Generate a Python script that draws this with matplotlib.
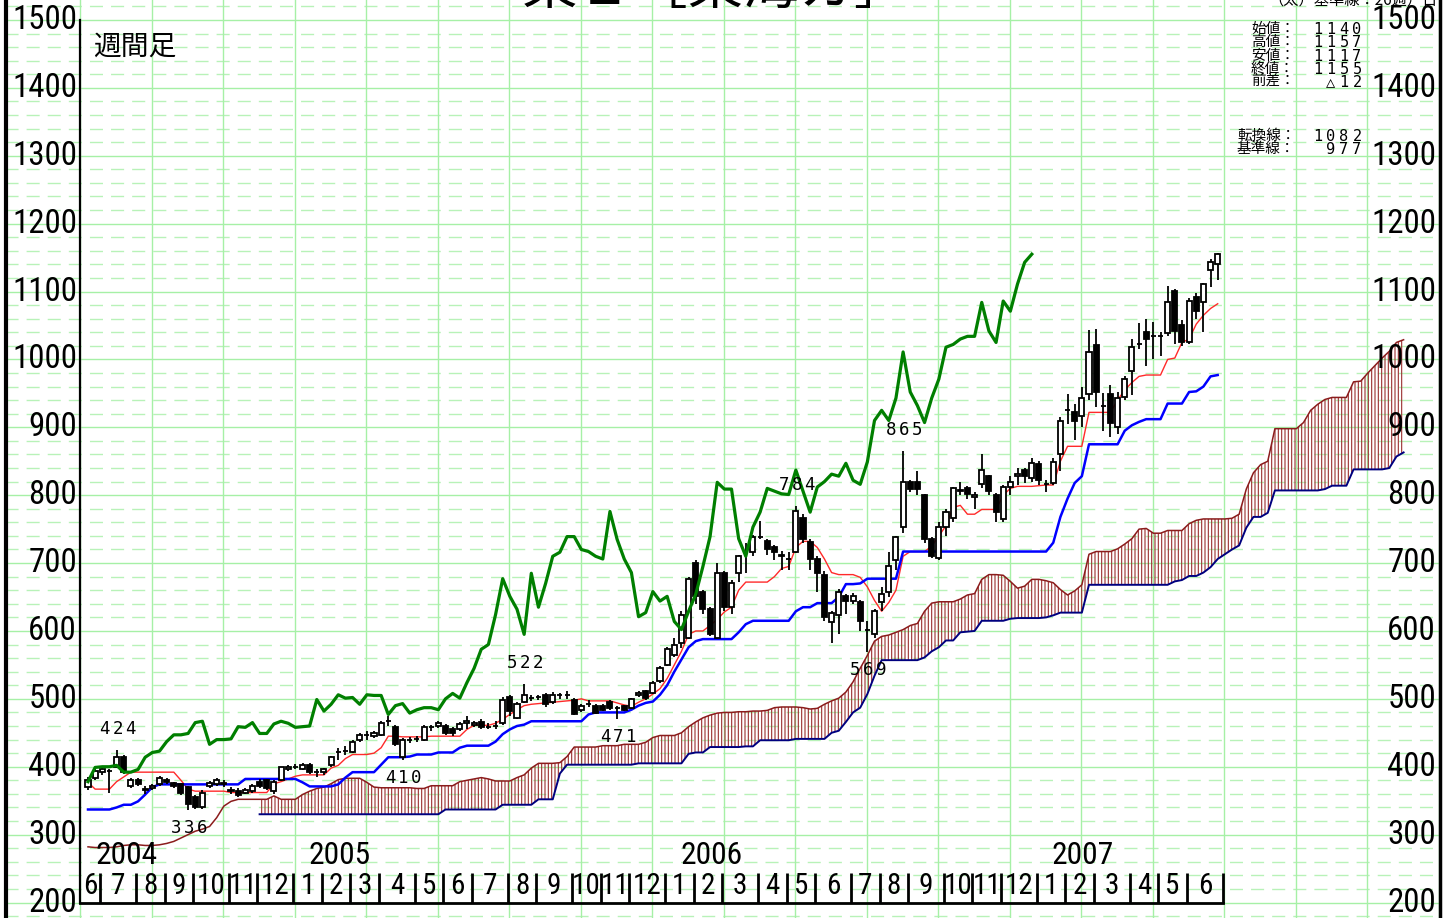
import logging
import numpy as np
import pandas as pd
import matplotlib
matplotlib.use("Agg")
import matplotlib.pyplot as plt
from matplotlib.transforms import offset_copy
from matplotlib import font_manager
from matplotlib.font_manager import FontProperties
from matplotlib.textpath import TextPath

logging.getLogger("matplotlib.font_manager").setLevel(logging.ERROR)

# ---------------------------------------------------------------- data
start_date = "2004-06-18"          # first weekly candle (Friday dating)
shift = 26                         # ichimoku shift (weeks)

opens = [370,384,392,394,400,414,371,380,367,369, 374,380,376,374,370,356,340,371,374,376,
         366,364,362,364,378,380,364,381,396,400, 397,402,392,392,403,421,423,422,440,447,
         445,447,467,459,415,440,441,440,458,460, 460,455,456,465,462,466,459,460,465,502,
         472,496,501,502,506,495,505,505,499,484, 493,490,489,495,487,489,487,506,511,509,
         526,550,565,583,590,700,657,632,590,685, 635,686,716,716,739,732,723,712,706,717,
         767,731,706,683,613,624,651,644,642,602, 595,642,657,704,753,819,819,800,735,707,
         753,766,808,810,797,816,828,801,765,812, 828,837,825,846,816,818,860,925,922,916,
         949,1021,932,949,900,944,983,1022,1041,1034, 1034,1039,1101,1050,1025,1092,1084,1131,1140]
highs = [385,398,399,397,424,418,384,384,372,374, 386,383,378,376,372,358,365,379,383,380,
         370,368,368,374,382,382,380,400,403,404, 405,406,396,398,416,428,430,440,450,452,
         452,468,475,462,442,444,445,462,461,468, 463,459,466,474,468,470,464,468,502,506,
         495,522,506,505,508,510,508,512,501,492, 498,492,493,499,490,491,501,512,513,526,
         548,576,590,630,680,704,660,635,700,688, 675,712,730,742,762,736,726,718,716,784,
         772,735,710,688,630,662,655,656,645,615, 632,665,717,740,865,822,835,802,738,760,
         780,812,820,813,804,860,830,803,815,828, 840,840,855,850,822,855,915,949,935,960,
         1044,1045,950,963,952,975,1030,1053,1060,1055, 1040,1108,1104,1058,1090,1098,1112,1148,1157]
lows = [366,380,388,362,398,390,368,372,360,366, 372,374,369,358,336,338,338,368,372,370,
        360,356,360,362,368,365,360,379,394,396, 395,390,385,388,400,410,418,420,436,440,
        442,445,460,430,410,435,437,438,452,457, 447,446,453,455,458,455,455,456,462,475,
        470,494,497,498,488,493,500,500,476,480, 488,478,482,484,471,482,485,503,498,507,
        524,548,562,575,588,640,625,592,588,630, 625,672,686,710,735,712,705,690,690,715,
        730,690,657,615,583,595,625,640,600,569, 590,630,650,690,745,805,801,730,707,705,
        740,760,800,795,780,810,800,760,760,800, 815,818,820,815,805,815,836,905,882,900,
        940,930,895,885,890,940,947,1016,990,1000, 1005,1035,1022,1020,1022,1060,1040,1106,1117]
closes = [381,393,396,393,415,392,381,375,366,371, 384,377,372,362,345,340,362,376,380,374,
          364,358,366,371,372,368,378,399,400,400, 402,392,392,396,414,421,423,437,447,447,
          449,465,467,433,440,440,441,459,458,465, 449,449,463,467,464,458,459,460,499,482,
          492,506,501,502,492,506,505,505,477,490, 493,479,484,487,487,484,500,508,501,524,
          545,573,580,624,677,651,632,595,685,635, 670,710,716,739,739,720,717,710,706,776,
          735,706,686,621,627,658,644,651,614,602, 629,654,695,739,819,809,809,736,710,753,
          775,810,806,802,801,837,806,775,812,820, 831,828,847,822,816,849,910,925,910,943,
          1011,952,932,907,943,971,1018,1022,1030,1034, 1034,1084,1042,1025,1086,1071,1111,1143,1155]

tenkan = [377,367,367,367,378,385,392,392,392,392, 392,392,392,380,367,364,364,364,364,364,
          362,362,362,362,362,362,375,378,382,386, 388,388,388,388,398,402,412,418,418,418,
          420,428,445,445,444,444,444,444,445,445, 445,445,445,455,461,461,461,464,470,477,
          484,490,492,493,494,495,496,497,498,500, 497,497,497,497,494,491,489,495,500,507,
          515,530,550,570,595,600,600,608,617,628, 635,660,672,672,672,672,680,692,695,723,
          732,732,723,706,686,683,683,683,679,665, 645,629,642,660,710,717,717,717,725,740,
          755,782,785,772,772,779,779,779,800,810, 813,813,813,814,815,815,850,872,872,872,
          922,922,922,922,940,955,966,975,977,977, 977,1000,1002,1025,1030,1052,1065,1075,1082]
kijun = [337,337,337,337,340,344,344,349,359,370, 374,374,374,374,374,374,374,374,374,374,
         374,374,382,382,382,382,382,382,382,382, 377,371,371,371,371,374,384,392,392,392,
         392,403,414,414,414,415,418,418,418,421, 421,421,428,431,431,431,431,437,448,455,
         460,462,467,467,467,467,467,467,467,467, 477,480,480,480,480,480,484,490,494,496,
         506,520,540,558,576,585,588,588,588,588, 588,598,610,615,615,615,615,615,615,629,
         635,635,641,641,641,650,669,669,670,677, 677,677,677,677,717,717,717,717,717,717,
         717,717,717,717,717,717,717,717,717,717, 717,717,717,717,717,730,768,795,818,828,
         875,875,875,875,875,895,903,908,912,912, 912,935,935,935,952,953,960,975,977]

# leading span A, index 0..184 (already shifted forward by 26 weeks)
span_a = [282,281,281,281,282,284,285,285,284,284, 285,287,290,295,300,305,308,312,325,342,
          349,352,352,352,352,352,357,352,352,352, 359,364,368,370,375,381,383,383,383,377,
          370,369,369,369,369,369,368,368,372,372, 372,372,378,380,382,384,382,379,379,379,
          384,388,398,405,405,405,406,415,429,429, 429,429,431,431,431,433,433,433,436,443,
          446,446,446,450,459,466,472,476,479,480, 480,481,481,482,482,483,487,488,488,488,
          487,485,486,492,497,501,510,525,545,564, 585,592,594,598,602,608,611,629,641,643,
          643,643,647,653,655,676,683,683,682,673, 663,666,676,676,674,671,661,653,659,668,
          713,717,717,717,721,728,736,750,751,744, 744,748,748,748,758,763,765,765,765,765,
          766,772,809,833,845,850,898,898,898,898, 907,925,934,941,944,944,944,967,968,980,
          991,1002,1012,1025,1029]
# leading span B, index 24..184
span_b_start = 24
span_b = [330,330,330,330,330,330,330,330,330,330, 330,330,330,330,330,330,330,330,330,330,
          330,330,330,330,330,330,337,337,337,337, 337,337,337,337,344,344,344,344,344,352,
          352,352,390,403,403,403,403,403,403,403, 403,403,403,405,405,405,405,405,405,405,
          419,421,421,429,429,429,429,429,430,430, 439,439,439,439,439,441,441,441,441,441,
          450,453,466,480,487,507,534,557,557,557, 557,557,557,561,570,576,586,586,598,599,
          600,615,615,615,615,618,619,619,619,619, 620,623,627,627,627,627,668,668,668,668,
          668,668,668,668,668,668,668,668,673,675, 681,681,686,694,706,713,720,726,752,768,
          768,774,807,807,807,807,807,807,807,809, 814,814,814,838,838,838,838,838,840,857,
          863]

y_ticks = [200,300,400,500,600,700,800,900,1000,1100,1200,1300,1400,1500]
# (candle index, 'H' or 'L') for the marked highs / lows
marks = [(4,"H"), (14,"L"), (44,"L"), (61,"H"), (74,"L"), (99,"H"), (109,"L"), (114,"H")]

title_text = "東１［東海カ］"
period_text = "週間足"
top_note = "（太）基準線：26週）日"
info_labels = ["始値：", "高値：", "安値：", "終値：", "前差："]
info_values = ["1140", "1157", "1117", "1155", "△12"]
line_labels = ["転換線：", "基準線："]
line_values = ["1082", "977"]

# ---------------------------------------------------------------- layout helpers
def px2x(p):
    return (p - 88.0) / 7.15

def py2y(p):
    return 200.0 + (902.5 - p) / 0.67885

GRID_SOLID = "#a6f0a6"
GRID_DASH = "#b8f2b8"
MONO = ["DejaVu Sans Mono", "DejaVu Sans"]
CJK = ["Noto Sans CJK JP", "DejaVu Sans"]


def pick_narrow_font():
    """Prefer a narrow / condensed sans face for the tall thin digits."""
    cands = []
    for f in font_manager.fontManager.ttflist:
        if f.style != "normal":
            continue
        w = f.weight if isinstance(f.weight, int) else 400
        if w not in (400,):
            continue
        nm = f.name
        narrowish = ("Narrow" in nm or "Condensed" in nm or
                     f.stretch in ("condensed", "semi-condensed", "extra-condensed"))
        if narrowish:
            cands.append(f)
    pref = ["Liberation Sans Narrow", "Noto Sans", "Roboto", "Open Sans", "DejaVu Sans"]
    for p in pref:
        for f in cands:
            if f.name.startswith(p):
                return FontProperties(fname=f.fname)
    if cands:
        return FontProperties(fname=cands[0].fname)
    return FontProperties(family=["Liberation Sans", "DejaVu Sans"])


NARROW_FP = pick_narrow_font()


def size_for(sample, width_px, height_px, allow=1.12):
    tp = TextPath((0, 0), sample, size=100, prop=NARROW_FP)
    ext = tp.get_extents()
    s_w = 100 * (width_px * 0.72) / ext.width * allow
    s_h = 100 * (height_px * 0.72) / ext.height
    return min(s_w, s_h)


YLAB_SIZE = size_for("1500", 55, 24)
MON_SIZE = size_for("6", 13, 21)
YEAR_SIZE = size_for("2005", 56, 23)


def nfp(size):
    fp = NARROW_FP.copy()
    fp.set_size(size)
    return fp


o = np.array(opens, float); h = np.array(highs, float)
l = np.array(lows, float); c = np.array(closes, float)
N = len(c)
x = np.arange(N)
dates = pd.date_range(start_date, periods=N, freq="7D")

fig = plt.figure(figsize=(14.53, 9.18), dpi=100)
ax = fig.add_axes([0, 0, 1, 1])
ax.set_xlim(px2x(0), px2x(1453))
ax.set_ylim(py2y(918), py2y(0))
ax.axis("off")

# ---------------------------------------------------------------- grid
gx0, gx1 = px2x(5), px2x(1440)
for v in range(180, 1540, 20):
    if v % 100 == 0:
        ax.plot([gx0, gx1], [v, v], color=GRID_SOLID, lw=1.0, zorder=0)
    else:
        ax.plot([gx0, gx1], [v, v], color=GRID_DASH, lw=1.0, zorder=0,
                dashes=(9.4, 5.8))
for k in range(20):
    ax.axvline(px2x(80) + 10 * k, color=GRID_SOLID, lw=1.0, zorder=0)

# frame lines
ax.axvline(px2x(6), color="black", lw=3.0, zorder=10)
ax.axvline(px2x(1440), color="black", lw=2.5, zorder=10)
ax.plot([px2x(79.5), px2x(79.5)], [200, 1500], color="black", lw=1.6, zorder=10)

# ---------------------------------------------------------------- ichimoku cloud
xa = np.arange(len(span_a))
xb = np.arange(span_b_start, span_b_start + len(span_b))
sa = np.array(span_a, float); sb = np.array(span_b, float)
plt.rcParams["hatch.linewidth"] = 0.8
ax.fill_between(xb, sa[span_b_start:], sb, facecolor="none", edgecolor="#9a3030",
                hatch="|||||", linewidth=0, zorder=1)
ax.plot(xa, sa, color="#8b1c1c", lw=1.1, zorder=2)
ax.plot(xb, sb, color="#00007f", lw=1.4, zorder=2)

# conversion / base lines
ax.plot(x, tenkan, color="#ff2a2a", lw=1.0, zorder=3)
ax.plot(x, kijun, color="#0000ff", lw=1.8, zorder=3)

# ---------------------------------------------------------------- candles
ax.vlines(x, l, h, color="black", lw=1.3, zorder=5)
up = c >= o
ax.bar(x, np.abs(c - o), bottom=np.minimum(o, c), width=0.7,
       color=np.where(up, "white", "black"), edgecolor="black", linewidth=1.3, zorder=6)

# lagging span (close plotted 26 weeks back)
ax.plot(x[:N - shift], c[shift:], color="#007f00", lw=2.3, zorder=7)

# ---------------------------------------------------------------- spaced text helper
def spaced(xd, yd, s, pitch, size, family, dx0=0.0, dy=0.0, align="center", color="black"):
    n = len(s)
    for k, ch in enumerate(s):
        if align == "center":
            dx = dx0 + (k - (n - 1) / 2.0) * pitch
        else:  # right: last char centre at dx0
            dx = dx0 - (n - 1 - k) * pitch
        tr = offset_copy(ax.transData, fig=fig, x=dx, y=dy, units="dots")
        ax.text(xd, yd, ch, transform=tr, ha="center", va="center",
                fontsize=size, family=family, color=color, zorder=12)

# high / low marks
for idx, kind in marks:
    if kind == "H":
        spaced(idx, h[idx], str(int(h[idx])), 13, 12.5, MONO, dx0=1, dy=21)
    else:
        spaced(idx, l[idx], str(int(l[idx])), 13, 12.5, MONO, dx0=1, dy=-18)

# ---------------------------------------------------------------- axes labels
for v in y_ticks:
    ax.text(px2x(77), v, str(v), ha="right", va="center", fontproperties=nfp(YLAB_SIZE), zorder=12)
    ax.text(px2x(1436), v, str(v), ha="right", va="center", fontproperties=nfp(YLAB_SIZE), zorder=12)

# month ticks and labels
month_change = [k for k in range(1, N) if dates[k].month != dates[k - 1].month]
tick_x = [k - 0.3 for k in month_change] + [N - 0.3]
bounds = [px2x(80)] + tick_x
ax.plot([px2x(79.5), tick_x[-1]], [200, 200], color="black", lw=2.0, zorder=10)
ax.vlines(tick_x, 200, py2y(873), color="black", lw=2.0, zorder=10)
seg_start = [0] + month_change
for j in range(len(seg_start)):
    m = dates[seg_start[j]].month
    ax.text((bounds[j] + bounds[j + 1]) / 2, py2y(886), str(m), ha="center", va="center",
            fontproperties=nfp(MON_SIZE), zorder=12)
# year labels
year_first = {}
for k in range(N):
    year_first.setdefault(dates[k].year, k)
for yr, k in year_first.items():
    xb0 = px2x(80) if k == 0 else k - 0.3
    ax.text(xb0 + 2.1, py2y(855), str(yr), ha="left", va="center",
            fontproperties=nfp(YEAR_SIZE), zorder=12)

# ---------------------------------------------------------------- texts
ax.text(px2x(93), py2y(47), period_text, ha="left", va="center", fontsize=20,
        family=CJK, zorder=12)
ax.text(px2x(522), py2y(4), title_text, ha="left", va="baseline", fontsize=40,
        family=CJK, zorder=12)
ax.text(px2x(1268), py2y(0), top_note, ha="left", va="center", fontsize=11,
        family=CJK, zorder=12)

row_y = [29, 42, 56, 69, 82]
for lab, val, ry in zip(info_labels, info_values, row_y):
    ax.text(px2x(1251), py2y(ry), lab, ha="left", va="center", fontsize=10.5,
            family=CJK, zorder=12)
    spaced(px2x(1357), py2y(ry), val, 13, 11, MONO, align="right")
for lab, val, ry in zip(line_labels, line_values, [136, 149]):
    ax.text(px2x(1237), py2y(ry), lab, ha="left", va="center", fontsize=10.5,
            family=CJK, zorder=12)
    spaced(px2x(1357), py2y(ry), val, 13, 11, MONO, align="right")

fig.savefig("out.png", dpi=100)
